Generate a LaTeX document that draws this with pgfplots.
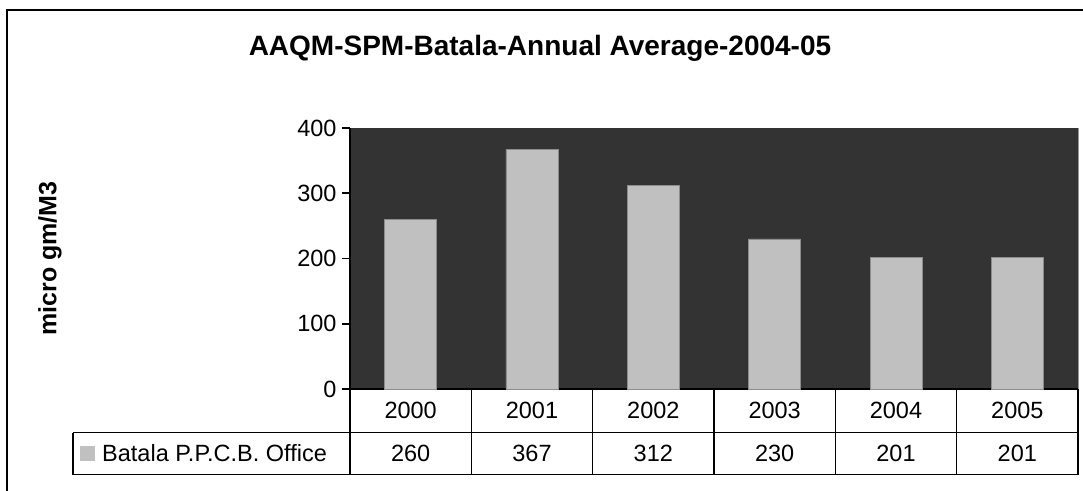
\documentclass[border=0pt]{standalone}
\usepackage{fontspec}
\setmainfont{Liberation Sans}
\usepackage{pgfplots}
\usepackage{pgfplotstable}
\pgfplotsset{compat=1.18}

\definecolor{plotbg}{HTML}{333333}
\definecolor{barfill}{HTML}{C0C0C0}
\definecolor{bardraw}{HTML}{8C8C8C}

\pgfplotstableread{
x year spm
0 2000 260
1 2001 367
2 2002 312
3 2003 230
4 2004 201
5 2005 201
}\data

\newcommand{\bodyfont}{\fontsize{23.5}{28}\selectfont}

\begin{document}
\begin{tikzpicture}
\useasboundingbox (-350pt,-101pt) rectangle (733pt,389pt);
% outer chart frame (only top and left edges visible)
\draw[line width=2.4pt] (-343pt,-120pt) -- (-343pt,379pt) -- (760pt,379pt);

\begin{axis}[
    at={(0pt,0pt)}, anchor=south west,
    scale only axis, width=728pt, height=261pt,
    xmin=-0.5, xmax=5.5, ymin=0, ymax=400,
    clip=false,
    axis background/.style={fill=plotbg},
    axis x line=bottom, axis y line=left,
    axis line style={-, line width=1.6pt, black},
    xtick=\empty,
    ytick={0,100,200,300,400},
    tick align=outside, major tick length=8pt,
    y tick style={line width=1.6pt, black},
    tick label style={font=\bodyfont},
    yticklabel style={xshift=-2pt},
    /pgf/number format/assume math mode=true,
    every axis y label/.style={at={(rel axis cs:0,0.5)}, xshift=-300pt,
        rotate=90, anchor=center, font=\bfseries\fontsize{25}{30}\selectfont},
    ylabel={micro gm/M3},
]
\addplot[ybar, bar width=52pt, fill=barfill, draw=bardraw, line width=0.8pt]
    table[x=x, y=spm] {\data};
% data table: year row
\addplot[mark=none, draw=none, nodes near coords, nodes near coords align={center},
    point meta=explicit symbolic, every node near coord/.append style={font=\bodyfont}]
    table[x=x, y expr=-32.95, meta=year] {\data};
% data table: value row
\addplot[mark=none, draw=none, nodes near coords, nodes near coords align={center},
    point meta=explicit symbolic, every node near coord/.append style={font=\bodyfont}]
    table[x=x, y expr=-98.85, meta=spm] {\data};
\draw[gray!80, line width=0.8pt] (rel axis cs:1,0) -- (rel axis cs:1,1);
\end{axis}

% data table grid
\begin{scope}[line width=1.6pt]
\draw (-277pt,-43.5pt) -- (728pt,-43.5pt);
\draw (-277pt,-85.5pt) -- (728pt,-85.5pt);
\draw (-277pt,-43.5pt) -- (-277pt,-85.5pt);
\foreach \i in {0,...,6} {
    \draw ({\i*121.33pt},0pt) -- ({\i*121.33pt},-85.5pt);
}
\end{scope}
\fill[barfill] (-270pt,-57pt) rectangle (-255pt,-72pt);
\node[anchor=west, font=\bodyfont, inner sep=0pt] at (-248pt,-64.5pt) {Batala P.P.C.B. Office};

% title
\node[font=\bfseries\fontsize{28}{33}\selectfont] at (190pt,341pt) {AAQM-SPM-Batala-Annual Average-2004-05};
\end{tikzpicture}
\end{document}
